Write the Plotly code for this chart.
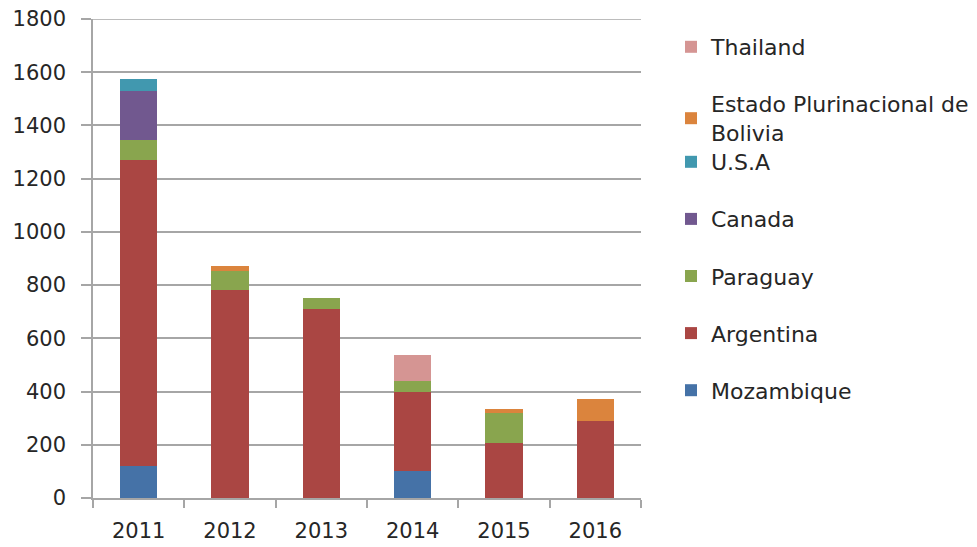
import plotly.graph_objects as go

years = ["2011", "2012", "2013", "2014", "2015", "2016"]
mozambique = [121, 0, 0, 102, 0, 0]
argentina = [1149, 780, 712, 298, 207, 290]
paraguay = [76, 72, 38, 39, 113, 0]
canada = [184, 0, 0, 0, 0, 0]
usa = [46, 0, 0, 0, 0, 0]
bolivia = [0, 20, 0, 0, 14, 81]
thailand = [0, 0, 0, 97, 0, 0]

y_ticks = [0, 200, 400, 600, 800, 1000, 1200, 1400, 1600, 1800]

series = [
    ("Mozambique", mozambique, "#4572A7", "legend2"),
    ("Argentina", argentina, "#AA4643", "legend2"),
    ("Paraguay", paraguay, "#89A54E", "legend2"),
    ("Canada", canada, "#71588F", "legend2"),
    ("U.S.A", usa, "#4198AF", "legend2"),
    ("Estado Plurinacional de<br>Bolivia", bolivia, "#DB843D", "legend"),
    ("Thailand", thailand, "#D59593", "legend"),
]

FONT = "DejaVu Sans"
TXT = "#262626"
GRID = "#A6A6A6"

fig = go.Figure()
n = len(series)
for i, (name, vals, color, leg) in enumerate(series):
    fig.add_trace(go.Bar(
        x=years, y=vals, name=name, legend=leg,
        legendgroup="g%d" % i, legendrank=100 * (n - i),
        marker=dict(color=color, line=dict(width=0)),
    ))

leg_common = dict(
    xref="container", yref="container", xanchor="left", yanchor="top",
    traceorder="grouped", tracegroupgap=25.5,
    font=dict(family=FONT, size=22, color=TXT), bgcolor="rgba(0,0,0,0)",
)

fig.update_layout(
    width=977, height=547,
    barmode="stack", bargap=0.59,
    plot_bgcolor="white", paper_bgcolor="white",
    margin=dict(l=85, r=344, t=11, b=57, autoexpand=False),
    font=dict(family=FONT, size=21, color=TXT),
    showlegend=True,
    legend=dict(x=663 / 977, y=1 - 18 / 547, **leg_common),
    legend2=dict(x=663 / 977, y=1 - 133 / 547, **leg_common),
)

# top gridline at the axis maximum (plotly skips grid at the range edge)
fig.add_shape(
    type="line", xref="paper", x0=0, x1=1, yref="y", y0=y_ticks[-1],
    y1=y_ticks[-1], line=dict(color=GRID, width=1.5), layer="below",
)

fig.update_yaxes(
    range=[0, 1800], tickvals=y_ticks, showgrid=True, gridcolor=GRID,
    gridwidth=1.5, showline=True, linecolor=GRID, linewidth=1.5,
    ticks="outside", ticklen=10, tickcolor=GRID, tickwidth=1.5,
    ticklabelstandoff=11, ticklabeloverflow="allow", zeroline=False,
    fixedrange=True,
)
fig.update_xaxes(
    showline=True, linecolor=GRID, linewidth=1.5,
    ticks="outside", ticklen=8, tickcolor=GRID, tickwidth=1.5,
    tickson="boundaries", ticklabelstandoff=13,
)

fig.write_html("out.html")
